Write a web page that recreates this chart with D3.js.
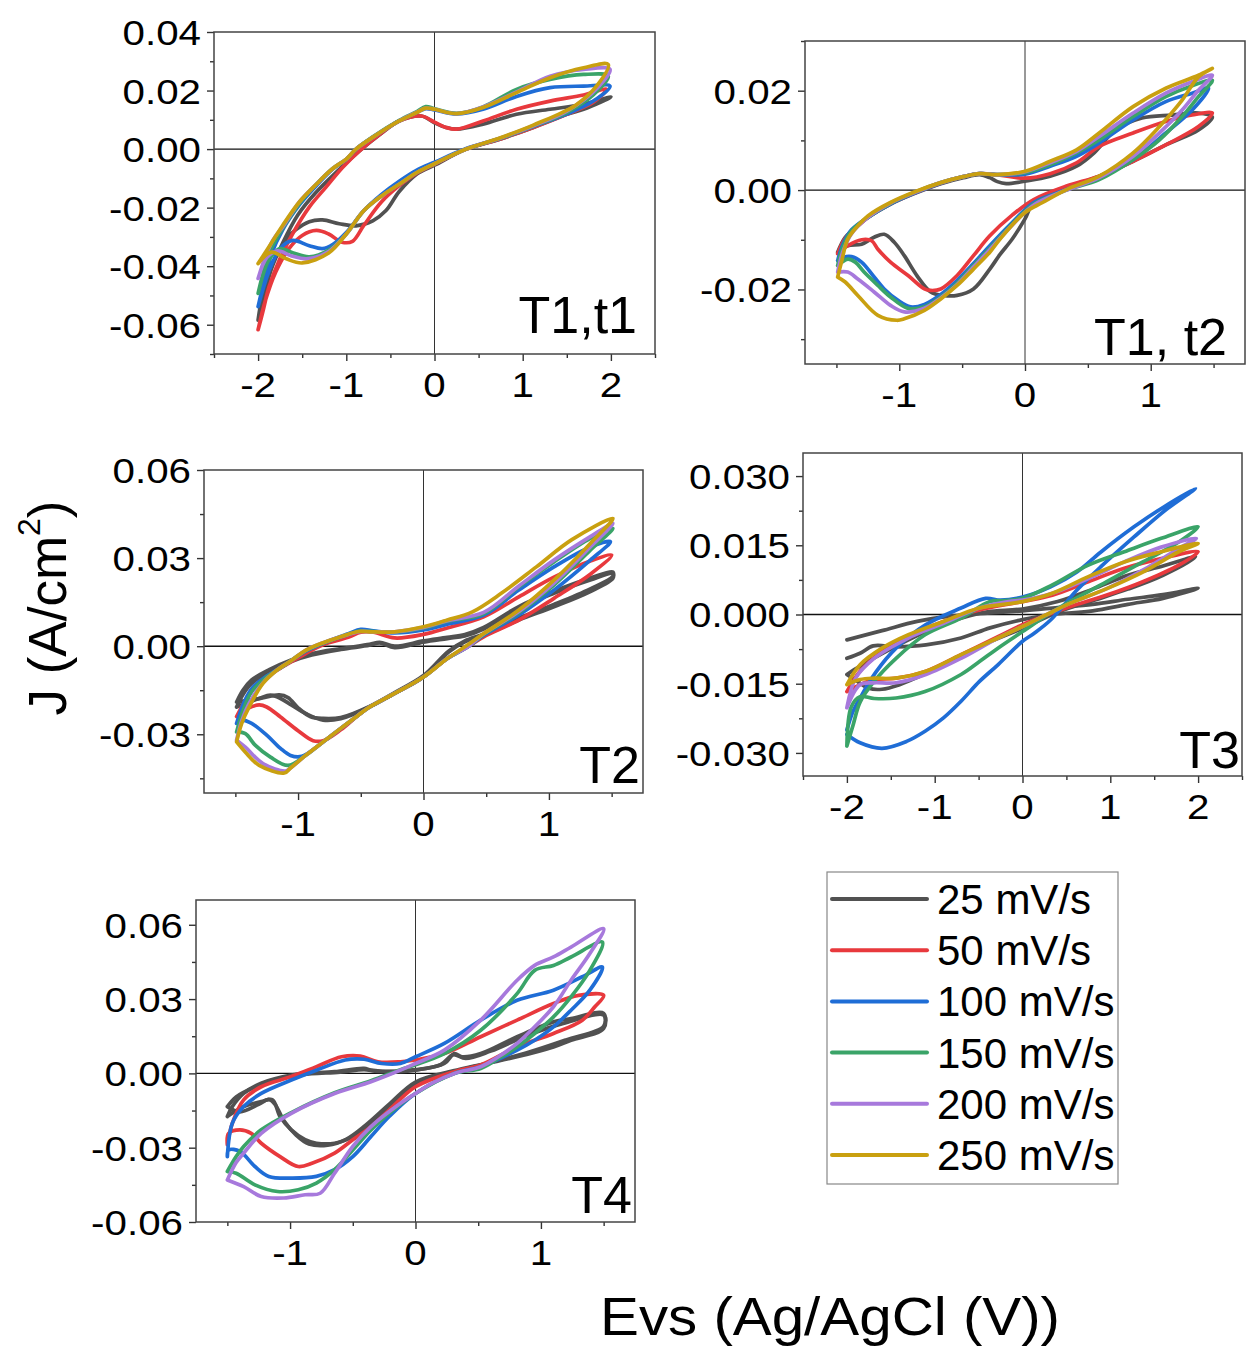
<!DOCTYPE html>
<html>
<head>
<meta charset="utf-8">
<script src="https://cdn.jsdelivr.net/npm/d3@7"></script>
<style>
  body { margin: 0; background: #fff; }
  text { font-family: "Liberation Sans", Arial, sans-serif; fill: #000; }
</style>
</head>
<body>
<div id="chart"></div>
<script>
// scan rates and their colours
const scanRates = ["25 mV/s", "50 mV/s", "100 mV/s", "150 mV/s", "200 mV/s", "250 mV/s"];
const seriesColors = ["#515151", "#e8393d", "#1f6dd6", "#3aa468", "#a779dc", "#c9a010"];

// each entry: loops for one scan rate, points [E (V), J (A/cm2)], anodic sweep then back
const t1t1 = [
  [[[-2.0,-0.0584],[-1.93,-0.050],[-1.85,-0.041],[-1.72,-0.032],[-1.55,-0.0225],[-1.35,-0.015],[-1.1,-0.0075],[-0.85,-0.0006],[-0.62,0.005],[-0.4,0.0096],[-0.15,0.0113],[0.0,0.009],[0.13,0.0074],[0.25,0.0068],[0.55,0.0085],[0.93,0.0119],[1.31,0.0136],[1.69,0.0153],[2.0,0.0178],
    [1.69,0.0136],[1.5,0.0119],[1.12,0.0074],[0.74,0.0034],[0.36,0.0],[0.0,-0.0055],[-0.2,-0.0085],[-0.4,-0.0145],[-0.55,-0.021],[-0.7,-0.0245],[-0.89,-0.0262],[-1.08,-0.0255],[-1.27,-0.0242],[-1.42,-0.0248],[-1.57,-0.0275],[-1.69,-0.031],[-1.84,-0.040],[-1.95,-0.050],[-2.0,-0.0584]]],
  [[[-2.0,-0.0617],[-1.95,-0.056],[-1.875,-0.047],[-1.76,-0.038],[-1.61,-0.029],[-1.42,-0.0198],[-1.23,-0.013],[-1.04,-0.0062],[-0.85,-0.0006],[-0.62,0.0051],[-0.4,0.0096],[-0.15,0.0113],[0.0,0.0092],[0.13,0.0074],[0.25,0.0068],[0.55,0.0096],[0.93,0.0136],[1.31,0.0164],[1.69,0.0185],[1.95,0.0204],
    [1.8,0.016],[1.5,0.0119],[1.12,0.0074],[0.74,0.0034],[0.36,0.0],[0.0,-0.0052],[-0.2,-0.0082],[-0.4,-0.0125],[-0.6,-0.018],[-0.8,-0.026],[-0.93,-0.0315],[-1.05,-0.0318],[-1.2,-0.029],[-1.34,-0.0278],[-1.5,-0.0295],[-1.65,-0.034],[-1.8,-0.042],[-1.92,-0.052],[-2.0,-0.0617]]],
  [[[-2.0,-0.0538],[-1.93,-0.045],[-1.85,-0.036],[-1.72,-0.0275],[-1.53,-0.019],[-1.34,-0.0125],[-1.16,-0.007],[-1.0,-0.0035],[-0.89,0.0],[-0.7,0.004],[-0.4,0.0096],[-0.2,0.0125],[-0.1,0.0138],[0.0,0.0134],[0.25,0.012],[0.55,0.0136],[0.93,0.018],[1.31,0.021],[1.69,0.0215],[1.99,0.0215],
    [1.8,0.0164],[1.5,0.012],[1.12,0.0077],[0.74,0.0036],[0.36,0.0002],[0.0,-0.0045],[-0.2,-0.0072],[-0.4,-0.011],[-0.6,-0.0155],[-0.8,-0.021],[-1.0,-0.0285],[-1.15,-0.0325],[-1.27,-0.034],[-1.42,-0.033],[-1.61,-0.0312],[-1.75,-0.034],[-1.88,-0.042],[-2.0,-0.0538]]],
  [[[-2.0,-0.0493],[-1.93,-0.041],[-1.85,-0.034],[-1.72,-0.027],[-1.53,-0.0185],[-1.34,-0.012],[-1.16,-0.0068],[-1.0,-0.0034],[-0.89,0.0],[-0.7,0.0042],[-0.4,0.0098],[-0.2,0.0128],[-0.1,0.0145],[0.0,0.0138],[0.25,0.0122],[0.55,0.0144],[0.93,0.0204],[1.31,0.0238],[1.69,0.0255],[1.97,0.0249],
    [1.8,0.0185],[1.5,0.0125],[1.12,0.0078],[0.74,0.0036],[0.36,0.0],[0.0,-0.005],[-0.2,-0.008],[-0.4,-0.012],[-0.6,-0.016],[-0.8,-0.021],[-1.0,-0.029],[-1.2,-0.0345],[-1.42,-0.0368],[-1.6,-0.0355],[-1.75,-0.034],[-1.88,-0.038],[-2.0,-0.0493]]],
  [[[-2.0,-0.0442],[-1.92,-0.037],[-1.83,-0.031],[-1.72,-0.0265],[-1.53,-0.018],[-1.34,-0.012],[-1.16,-0.0068],[-1.0,-0.0034],[-0.89,0.0],[-0.7,0.004],[-0.4,0.0096],[-0.2,0.0126],[-0.1,0.014],[0.0,0.0136],[0.25,0.0121],[0.55,0.0144],[0.93,0.0195],[1.31,0.0249],[1.69,0.0272],[1.99,0.0272],
    [1.85,0.021],[1.5,0.013],[1.12,0.008],[0.74,0.0037],[0.36,0.0],[0.0,-0.005],[-0.2,-0.008],[-0.4,-0.012],[-0.6,-0.016],[-0.8,-0.021],[-1.0,-0.029],[-1.2,-0.035],[-1.45,-0.0375],[-1.62,-0.0365],[-1.78,-0.0348],[-1.9,-0.037],[-2.0,-0.0442]]],
  [[[-2.0,-0.0391],[-1.9,-0.0345],[-1.72,-0.026],[-1.53,-0.018],[-1.34,-0.012],[-1.16,-0.0068],[-1.0,-0.0034],[-0.89,0.0],[-0.7,0.004],[-0.4,0.0096],[-0.2,0.0125],[-0.1,0.014],[0.0,0.0136],[0.25,0.0121],[0.55,0.0142],[0.93,0.0193],[1.31,0.0244],[1.69,0.0278],[1.97,0.0289],
    [1.85,0.022],[1.6,0.015],[1.12,0.0082],[0.74,0.0038],[0.36,0.0],[0.0,-0.005],[-0.2,-0.008],[-0.4,-0.012],[-0.6,-0.016],[-0.8,-0.021],[-1.0,-0.029],[-1.2,-0.0355],[-1.5,-0.0389],[-1.68,-0.0375],[-1.85,-0.0352],[-2.0,-0.0391]]]
];

const t1t2 = [
  [[[-1.49,-0.0125],[-1.43,-0.0095],[-1.33,-0.0072],[-1.25,-0.0055],[-1.07,-0.0028],[-0.86,-0.0005],[-0.67,0.0013],[-0.49,0.0025],[-0.36,0.0031],[-0.28,0.0025],[-0.22,0.0017],[-0.15,0.0013],[0.0,0.0018],[0.2,0.0028],[0.41,0.0048],[0.55,0.0075],[0.72,0.0121],[0.93,0.0145],[1.17,0.0151],[1.38,0.0155],[1.49,0.0147],
    [1.38,0.0121],[1.12,0.0091],[0.86,0.0058],[0.59,0.0028],[0.33,0.0005],[0.07,-0.0025],[0.0,-0.0058],[-0.1,-0.0098],[-0.2,-0.013],[-0.28,-0.0159],[-0.41,-0.0199],[-0.54,-0.0212],[-0.65,-0.0212],[-0.75,-0.0205],[-0.86,-0.0172],[-0.96,-0.0132],[-1.04,-0.0105],[-1.12,-0.0089],[-1.2,-0.0095],[-1.3,-0.0109],[-1.41,-0.0112],[-1.49,-0.0125]]],
  [[[-1.49,-0.0128],[-1.43,-0.0097],[-1.33,-0.0072],[-1.25,-0.0055],[-1.07,-0.0028],[-0.86,-0.0004],[-0.67,0.0014],[-0.49,0.0027],[-0.36,0.0033],[-0.2,0.003],[0.0,0.0024],[0.2,0.0033],[0.41,0.0055],[0.59,0.0088],[0.86,0.0115],[1.12,0.0138],[1.33,0.0151],[1.49,0.0155],
    [1.38,0.0128],[1.12,0.0091],[0.86,0.0058],[0.59,0.0028],[0.33,0.0008],[0.07,-0.0019],[-0.1,-0.005],[-0.28,-0.0092],[-0.41,-0.0132],[-0.54,-0.0172],[-0.67,-0.0199],[-0.75,-0.0202],[-0.8,-0.0199],[-0.93,-0.0172],[-1.07,-0.0145],[-1.17,-0.0119],[-1.22,-0.0102],[-1.3,-0.01],[-1.41,-0.0112],[-1.49,-0.0128]]],
  [[[-1.49,-0.0142],[-1.45,-0.011],[-1.38,-0.008],[-1.25,-0.0055],[-1.07,-0.0028],[-0.86,-0.0004],[-0.67,0.0014],[-0.49,0.0027],[-0.36,0.0033],[-0.2,0.0031],[0.0,0.0032],[0.2,0.0048],[0.41,0.0068],[0.59,0.0095],[0.86,0.0141],[1.12,0.0178],[1.33,0.0195],[1.46,0.0205],
    [1.33,0.0161],[1.12,0.0115],[0.86,0.0061],[0.59,0.0025],[0.33,0.0001],[0.07,-0.0025],[-0.1,-0.0065],[-0.28,-0.0112],[-0.41,-0.0148],[-0.54,-0.0182],[-0.67,-0.021],[-0.8,-0.023],[-0.91,-0.0235],[-1.01,-0.0222],[-1.12,-0.0199],[-1.2,-0.0175],[-1.3,-0.0145],[-1.38,-0.0134],[-1.44,-0.0135],[-1.49,-0.0142]]],
  [[[-1.49,-0.0152],[-1.45,-0.0115],[-1.38,-0.0082],[-1.25,-0.0055],[-1.07,-0.0027],[-0.86,-0.0003],[-0.67,0.0015],[-0.49,0.0027],[-0.36,0.0033],[-0.2,0.0031],[0.0,0.0035],[0.2,0.0051],[0.41,0.0075],[0.59,0.0101],[0.86,0.0148],[1.12,0.0188],[1.33,0.021],[1.49,0.0221],
    [1.38,0.0188],[1.25,0.0148],[1.07,0.0101],[0.86,0.0061],[0.59,0.0021],[0.33,0.0],[0.07,-0.0028],[-0.1,-0.0068],[-0.28,-0.0117],[-0.41,-0.0152],[-0.54,-0.0187],[-0.67,-0.0215],[-0.8,-0.0235],[-0.93,-0.0238],[-1.07,-0.0215],[-1.17,-0.0192],[-1.28,-0.0165],[-1.35,-0.0145],[-1.41,-0.0139],[-1.49,-0.0152]]],
  [[[-1.49,-0.0165],[-1.45,-0.0125],[-1.38,-0.0088],[-1.25,-0.0055],[-1.07,-0.0026],[-0.86,-0.0003],[-0.67,0.0015],[-0.49,0.0027],[-0.36,0.0033],[-0.2,0.0031],[0.0,0.0037],[0.2,0.0055],[0.41,0.0078],[0.59,0.0108],[0.86,0.0155],[1.12,0.0195],[1.33,0.0218],[1.49,0.0231],
    [1.38,0.0201],[1.25,0.0161],[1.07,0.0115],[0.86,0.0068],[0.59,0.0025],[0.33,0.0],[0.07,-0.003],[-0.1,-0.007],[-0.28,-0.012],[-0.41,-0.0155],[-0.54,-0.019],[-0.67,-0.0217],[-0.8,-0.0238],[-0.96,-0.0245],[-1.07,-0.0232],[-1.2,-0.0205],[-1.33,-0.0179],[-1.41,-0.0165],[-1.49,-0.0165]]],
  [[[-1.49,-0.0175],[-1.46,-0.0145],[-1.41,-0.0099],[-1.33,-0.0072],[-1.25,-0.0052],[-1.07,-0.0025],[-0.86,-0.0002],[-0.67,0.0015],[-0.49,0.0027],[-0.36,0.0033],[-0.22,0.0031],[0.0,0.0038],[0.2,0.0058],[0.41,0.0081],[0.59,0.0115],[0.86,0.0168],[1.12,0.0205],[1.38,0.0231],[1.49,0.0245],
    [1.38,0.0228],[1.25,0.0181],[1.07,0.0128],[0.86,0.0075],[0.59,0.0028],[0.33,0.0001],[0.14,-0.0025],[0.0,-0.0045],[-0.2,-0.0099],[-0.28,-0.0125],[-0.41,-0.0159],[-0.54,-0.0192],[-0.67,-0.0219],[-0.8,-0.0242],[-0.96,-0.0259],[-1.02,-0.0262],[-1.17,-0.0252],[-1.33,-0.0212],[-1.43,-0.0185],[-1.49,-0.0175]]]
];

const t2 = [
  [[[-1.49,-0.0207],[-1.44,-0.0165],[-1.37,-0.0127],[-1.23,-0.0087],[-1.06,-0.0053],[-0.89,-0.003],[-0.66,-0.0011],[-0.43,0.0003],[-0.35,0.0011],[-0.23,-0.0005],[0.0,0.0014],[0.19,0.0026],[0.33,0.0035],[0.48,0.0058],[0.76,0.0129],[1.04,0.018],[1.33,0.0225],[1.51,0.0247],
    [1.51,0.0231],[1.33,0.0186],[1.04,0.0134],[0.76,0.0089],[0.48,0.0037],[0.33,0.0015],[0.2,-0.002],[0.0,-0.0105],[-0.23,-0.0161],[-0.43,-0.0207],[-0.66,-0.0247],[-0.8,-0.0252],[-0.94,-0.0229],[-1.055,-0.02],[-1.14,-0.0178],[-1.22,-0.0167],[-1.31,-0.0178],[-1.42,-0.0195],[-1.49,-0.0207]],
   [[-1.49,-0.019],[-1.44,-0.015],[-1.37,-0.0115],[-1.23,-0.008],[-1.06,-0.0048],[-0.89,-0.0025],[-0.66,-0.0008],[-0.43,0.0006],[-0.35,0.0013],[-0.23,0.0],[0.0,0.0018],[0.19,0.003],[0.33,0.004],[0.48,0.0064],[0.76,0.0135],[1.04,0.0187],[1.33,0.0232],[1.51,0.0253],
    [1.51,0.0238],[1.33,0.0195],[1.04,0.0142],[0.76,0.0096],[0.48,0.0042],[0.33,0.0018],[0.2,-0.0017],[0.0,-0.01],[-0.23,-0.0158],[-0.43,-0.0205],[-0.66,-0.0243],[-0.8,-0.0246],[-0.9,-0.024],[-1.0,-0.021],[-1.08,-0.0175],[-1.15,-0.0166],[-1.3,-0.0178],[-1.49,-0.019]]],
  [[[-1.49,-0.024],[-1.42,-0.0185],[-1.34,-0.0135],[-1.22,-0.0095],[-1.1,-0.0065],[-0.94,-0.0025],[-0.8,0.0005],[-0.6,0.003],[-0.5,0.0048],[-0.4,0.0048],[-0.23,0.0028],[0.0,0.004],[0.19,0.0062],[0.48,0.0100],[0.76,0.0168],[1.04,0.0235],[1.33,0.029],[1.5,0.031],
    [1.33,0.0245],[1.04,0.0163],[0.76,0.0089],[0.48,0.0032],[0.36,0.0],[0.19,-0.0042],[0.0,-0.0105],[-0.23,-0.0161],[-0.43,-0.0207],[-0.52,-0.0235],[-0.66,-0.0285],[-0.8,-0.0322],[-0.88,-0.0322],[-1.0,-0.0288],[-1.14,-0.0241],[-1.25,-0.0207],[-1.31,-0.0200],[-1.4,-0.0212],[-1.49,-0.024]]],
  [[[-1.49,-0.0263],[-1.43,-0.019],[-1.36,-0.014],[-1.25,-0.0102],[-1.12,-0.0068],[-0.94,-0.0018],[-0.8,0.001],[-0.6,0.0042],[-0.5,0.0057],[-0.4,0.0052],[-0.23,0.0045],[0.0,0.0055],[0.19,0.0075],[0.48,0.0106],[0.76,0.0191],[1.04,0.027],[1.33,0.0338],[1.49,0.0356],
    [1.33,0.0293],[1.04,0.0191],[0.76,0.0106],[0.48,0.0037],[0.36,0.0],[0.19,-0.0042],[0.0,-0.0105],[-0.23,-0.0161],[-0.43,-0.0207],[-0.52,-0.0235],[-0.66,-0.028],[-0.8,-0.0326],[-0.97,-0.0375],[-1.06,-0.0372],[-1.14,-0.0348],[-1.25,-0.0303],[-1.37,-0.0263],[-1.45,-0.0252],[-1.49,-0.0263]]],
  [[[-1.49,-0.0292],[-1.44,-0.022],[-1.37,-0.0155],[-1.25,-0.0105],[-1.12,-0.0068],[-0.94,-0.0016],[-0.8,0.001],[-0.6,0.004],[-0.5,0.0052],[-0.4,0.005],[-0.23,0.0048],[0.0,0.0062],[0.19,0.0085],[0.48,0.0111],[0.76,0.0202],[1.04,0.0287],[1.33,0.0367],[1.51,0.0401],
    [1.33,0.0327],[1.04,0.0208],[0.76,0.0114],[0.48,0.004],[0.36,0.0],[0.19,-0.0042],[0.0,-0.0105],[-0.23,-0.0161],[-0.43,-0.0207],[-0.52,-0.0235],[-0.66,-0.028],[-0.8,-0.0326],[-0.94,-0.0372],[-1.08,-0.0406],[-1.22,-0.0378],[-1.34,-0.0338],[-1.42,-0.0298],[-1.49,-0.0292]]],
  [[[-1.49,-0.032],[-1.45,-0.0255],[-1.39,-0.0195],[-1.28,-0.0125],[-1.17,-0.0082],[-1.05,-0.0048],[-0.94,-0.0014],[-0.8,0.0012],[-0.6,0.004],[-0.5,0.005],[-0.4,0.0049],[-0.23,0.0049],[0.0,0.0064],[0.19,0.0087],[0.48,0.0115],[0.76,0.0205],[1.04,0.0293],[1.33,0.0373],[1.51,0.0418],
    [1.33,0.0338],[1.04,0.0215],[0.76,0.0118],[0.48,0.0042],[0.36,0.0],[0.19,-0.0042],[0.0,-0.0105],[-0.23,-0.0161],[-0.43,-0.0207],[-0.52,-0.0235],[-0.66,-0.028],[-0.8,-0.0326],[-0.94,-0.0372],[-1.06,-0.0415],[-1.1,-0.0425],[-1.28,-0.040],[-1.42,-0.0344],[-1.49,-0.032]]],
  [[[-1.49,-0.0326],[-1.45,-0.0264],[-1.39,-0.0207],[-1.28,-0.0127],[-1.17,-0.0082],[-1.05,-0.0048],[-0.94,-0.0014],[-0.8,0.0012],[-0.66,0.0032],[-0.52,0.005],[-0.43,0.0049],[-0.23,0.0049],[0.0,0.0066],[0.19,0.0089],[0.39,0.0117],[0.62,0.018],[0.9,0.027],[1.18,0.0362],[1.51,0.0435],
    [1.33,0.035],[1.04,0.0225],[0.76,0.0123],[0.48,0.0043],[0.33,-0.0002],[0.19,-0.0042],[0.0,-0.0105],[-0.23,-0.0161],[-0.43,-0.0207],[-0.52,-0.0235],[-0.66,-0.028],[-0.8,-0.0326],[-0.94,-0.0372],[-1.06,-0.0415],[-1.11,-0.0432],[-1.31,-0.0406],[-1.42,-0.0361],[-1.49,-0.0326]]]
];

const t3 = [
  [[[-2.0,-0.0055],[-1.6,-0.0035],[-1.2,-0.0015],[-0.8,-0.0003],[-0.4,0.0003],[0.0,0.0008],[0.4,0.0015],[0.8,0.0022],[1.2,0.0033],[1.6,0.0043],[2.0,0.0057],
    [1.6,0.0035],[1.2,0.0022],[0.8,0.0008],[0.34,0.0],[0.0,-0.0011],[-0.37,-0.0029],[-0.7,-0.0051],[-1.1,-0.0066],[-1.44,-0.007],[-1.7,-0.0068],[-1.85,-0.0084],[-2.0,-0.0095]],
   [[-2.0,-0.013],[-1.85,-0.0112],[-1.6,-0.0085],[-1.3,-0.0055],[-1.0,-0.0028],[-0.7,-0.0008],[-0.4,0.0006],[0.0,0.0012],[0.4,0.0028],[0.8,0.0055],[1.2,0.0085],[1.6,0.0105],[1.97,0.0125],
    [1.6,0.0085],[1.2,0.0055],[0.8,0.003],[0.4,0.0005],[0.0,-0.003],[-0.4,-0.0062],[-0.8,-0.01],[-1.1,-0.0128],[-1.4,-0.0152],[-1.6,-0.0162],[-1.75,-0.016],[-1.88,-0.0145],[-2.0,-0.013]]],
  [[[-2.0,-0.0167],[-1.85,-0.0123],[-1.6,-0.008],[-1.3,-0.0047],[-0.9,-0.0015],[-0.49,0.001],[0.0,0.0028],[0.34,0.0042],[0.75,0.0071],[1.16,0.01],[1.58,0.0121],[2.0,0.0136],
    [1.78,0.0107],[1.37,0.0071],[0.96,0.0042],[0.54,0.0017],[0.34,0.0003],[0.0,-0.0022],[-0.28,-0.0048],[-0.7,-0.0087],[-1.1,-0.0123],[-1.44,-0.0138],[-1.69,-0.0141],[-1.85,-0.0152],[-2.0,-0.0167]]],
  [[[-2.0,-0.025],[-1.93,-0.021],[-1.85,-0.0181],[-1.67,-0.0125],[-1.44,-0.0073],[-1.1,-0.0022],[-0.7,0.0014],[-0.42,0.0035],[-0.25,0.0031],[0.0,0.0038],[0.32,0.006],[0.62,0.0092],[0.89,0.0135],[1.27,0.019],[1.6,0.0232],[1.97,0.0273],
    [1.64,0.0228],[1.27,0.0168],[0.89,0.0103],[0.62,0.0053],[0.32,-0.0012],[0.13,-0.0041],[0.0,-0.0058],[-0.28,-0.0109],[-0.49,-0.0145],[-0.7,-0.0188],[-0.9,-0.0224],[-1.11,-0.0253],[-1.32,-0.0275],[-1.6,-0.029],[-1.85,-0.0278],[-2.0,-0.026]]],
  [[[-2.0,-0.0285],[-1.93,-0.024],[-1.85,-0.019],[-1.69,-0.0145],[-1.44,-0.0095],[-1.11,-0.0044],[-0.7,-0.0008],[-0.37,0.0028],[-0.2,0.003],[0.0,0.0035],[0.34,0.0064],[0.75,0.0107],[1.16,0.0136],[1.58,0.0165],[2.0,0.019],
    [1.78,0.0157],[1.37,0.0114],[0.96,0.0071],[0.54,0.0028],[0.34,0.0006],[0.0,-0.0037],[-0.28,-0.0073],[-0.49,-0.0102],[-0.7,-0.013],[-1.11,-0.0167],[-1.44,-0.0181],[-1.69,-0.0182],[-1.85,-0.0178],[-1.95,-0.02],[-2.0,-0.0285]]],
  [[[-2.0,-0.0202],[-1.9,-0.0138],[-1.69,-0.0095],[-1.3,-0.0051],[-0.9,-0.0019],[-0.49,0.0014],[-0.16,0.0028],[0.0,0.0031],[0.34,0.0046],[0.75,0.0078],[1.16,0.0114],[1.58,0.0146],[1.98,0.0165],
    [1.78,0.0143],[1.37,0.0096],[0.96,0.0056],[0.54,0.0024],[0.34,0.0006],[0.0,-0.0026],[-0.28,-0.0051],[-0.7,-0.0095],[-1.1,-0.013],[-1.44,-0.0148],[-1.69,-0.0148],[-1.85,-0.0152],[-2.0,-0.0202]]],
  [[[-2.0,-0.0152],[-1.85,-0.0109],[-1.6,-0.0073],[-1.3,-0.0044],[-0.9,-0.0015],[-0.49,0.0014],[0.0,0.0028],[0.34,0.0046],[0.75,0.0082],[1.16,0.0114],[1.58,0.0136],[2.0,0.0154],
    [1.78,0.0136],[1.37,0.0092],[0.96,0.0056],[0.54,0.0024],[0.34,0.0006],[0.0,-0.0026],[-0.28,-0.0051],[-0.7,-0.0087],[-1.1,-0.0123],[-1.44,-0.0138],[-1.69,-0.0138],[-1.85,-0.0141],[-2.0,-0.0152]]]
];

const t4 = [
  [[[-1.5,-0.0174],[-1.46,-0.0134],[-1.37,-0.0081],[-1.23,-0.004],[-0.99,-0.0007],[-0.645,0.0007],[-0.41,0.002],[-0.355,0.0013],[-0.12,0.0007],[0.0,0.0013],[0.23,0.004],[0.31,0.008],[0.37,0.0067],[0.52,0.008],[0.81,0.0148],[1.1,0.0208],[1.24,0.0221],[1.5,0.0242],
    [1.5,0.0181],[1.24,0.0134],[1.1,0.0107],[0.81,0.0067],[0.52,0.0034],[0.31,0.0007],[0.0,-0.004],[-0.21,-0.0134],[-0.355,-0.0201],[-0.5,-0.0255],[-0.645,-0.0282],[-0.79,-0.0282],[-0.88,-0.0268],[-0.99,-0.0228],[-1.08,-0.0174],[-1.14,-0.0107],[-1.23,-0.0114],[-1.37,-0.0134],[-1.5,-0.0174]],
   [[-1.5,-0.0134],[-1.43,-0.0095],[-1.3,-0.006],[-1.1,-0.0025],[-0.9,-0.0005],[-0.6,0.0005],[-0.41,0.0015],[-0.3,0.0008],[0.0,0.0015],[0.2,0.0035],[0.3,0.0075],[0.4,0.006],[0.6,0.009],[0.9,0.0155],[1.2,0.0205],[1.5,0.0235],
    [1.5,0.019],[1.2,0.0135],[0.9,0.0085],[0.6,0.0045],[0.3,0.001],[0.0,-0.0035],[-0.2,-0.012],[-0.4,-0.021],[-0.55,-0.0265],[-0.7,-0.029],[-0.85,-0.0285],[-0.95,-0.025],[-1.05,-0.019],[-1.12,-0.0125],[-1.17,-0.0105],[-1.25,-0.0125],[-1.4,-0.0155],[-1.5,-0.0134]]],
  [[[-1.5,-0.0288],[-1.46,-0.0201],[-1.37,-0.0107],[-1.23,-0.0054],[-0.99,-0.0013],[-0.79,0.0027],[-0.59,0.0067],[-0.44,0.007],[-0.3,0.0047],[-0.12,0.0047],[0.0,0.0054],[0.23,0.008],[0.52,0.0148],[0.81,0.0215],[1.1,0.0282],[1.3,0.0315],[1.5,0.0315],
    [1.43,0.0269],[1.33,0.0215],[1.1,0.0161],[0.81,0.0107],[0.52,0.0034],[0.31,0.0007],[0.0,-0.0054],[-0.21,-0.0148],[-0.355,-0.0215],[-0.5,-0.0268],[-0.645,-0.0322],[-0.82,-0.0362],[-0.935,-0.0376],[-1.08,-0.0336],[-1.23,-0.0282],[-1.31,-0.0242],[-1.4,-0.0228],[-1.49,-0.0242],[-1.5,-0.0288]]],
  [[[-1.5,-0.0336],[-1.46,-0.0201],[-1.37,-0.0134],[-1.23,-0.0081],[-0.99,-0.0027],[-0.79,0.0013],[-0.56,0.0054],[-0.41,0.0057],[-0.27,0.004],[-0.12,0.004],[0.0,0.0067],[0.23,0.0121],[0.52,0.0215],[0.81,0.0295],[1.1,0.0336],[1.33,0.039],[1.49,0.0429],
    [1.39,0.0336],[1.24,0.0255],[1.1,0.0188],[0.95,0.0134],[0.81,0.0094],[0.52,0.0027],[0.31,0.0],[0.0,-0.0081],[-0.21,-0.0174],[-0.355,-0.0255],[-0.5,-0.0336],[-0.645,-0.0389],[-0.79,-0.0416],[-0.99,-0.0423],[-1.17,-0.0416],[-1.28,-0.0376],[-1.4,-0.0315],[-1.49,-0.0309],[-1.5,-0.0336]]],
  [[[-1.5,-0.0396],[-1.43,-0.0336],[-1.37,-0.0295],[-1.23,-0.0228],[-0.99,-0.0158],[-0.645,-0.0078],[-0.355,-0.003],[-0.12,0.0015],[0.0,0.0035],[0.23,0.008],[0.52,0.0174],[0.81,0.0322],[0.95,0.0416],[1.1,0.0436],[1.24,0.047],[1.49,0.053],
    [1.39,0.0416],[1.24,0.0309],[1.1,0.0228],[0.95,0.0161],[0.81,0.0107],[0.66,0.006],[0.52,0.002],[0.31,0.0],[0.0,-0.0081],[-0.21,-0.0161],[-0.355,-0.0228],[-0.5,-0.0309],[-0.645,-0.0389],[-0.79,-0.0443],[-0.935,-0.047],[-1.1,-0.0477],[-1.28,-0.045],[-1.43,-0.0403],[-1.5,-0.0396]]],
  [[[-1.5,-0.043],[-1.43,-0.036],[-1.37,-0.0322],[-1.23,-0.0242],[-0.99,-0.0161],[-0.645,-0.0081],[-0.355,-0.0034],[-0.12,0.0013],[0.0,0.004],[0.23,0.0094],[0.52,0.0215],[0.81,0.0376],[0.95,0.0436],[1.1,0.047],[1.24,0.051],[1.5,0.0584],
    [1.39,0.0484],[1.24,0.0376],[1.1,0.0269],[0.95,0.0188],[0.81,0.0121],[0.66,0.0067],[0.52,0.0027],[0.31,0.0],[0.13,-0.004],[0.0,-0.0081],[-0.12,-0.0121],[-0.355,-0.0215],[-0.5,-0.0295],[-0.645,-0.0403],[-0.76,-0.0484],[-0.88,-0.049],[-1.05,-0.0503],[-1.23,-0.0497],[-1.37,-0.0457],[-1.5,-0.043]]],
  []
];

// tick values
const t1t1XTicks = [-2, -1, 0, 1, 2];
const t1t1YTicks = [-0.06, -0.04, -0.02, 0, 0.02, 0.04];
const t1t2XTicks = [-1, 0, 1];
const t1t2YTicks = [-0.02, 0, 0.02];
const t2XTicks = [-1, 0, 1];
const t2YTicks = [-0.03, 0, 0.03, 0.06];
const t3XTicks = [-2, -1, 0, 1, 2];
const t3YTicks = [-0.03, -0.015, 0, 0.015, 0.03];
const t4XTicks = [-1, 0, 1];
const t4YTicks = [-0.06, -0.03, 0, 0.03, 0.06];

let width = 1246;
let height = 1354;

let svg = d3.select("#chart")
    .append("svg")
    .attr("width", width)
    .attr("height", height);

// hyphen minus like the original
let locale = d3.formatLocale({decimal: ".", thousands: ",", grouping: [3], currency: ["", ""], minus: "-"});

let panels = [
    {label: "T1,t1", curves: t1t1, xTicks: t1t1XTicks, yTicks: t1t1YTicks, xDomain: [-2.5, 2.5], yDomain: [-0.07, 0.04],
     digits: 2, box: [214, 32, 655, 354], labelPos: [637, 333]},
    {label: "T1, t2", curves: t1t2, xTicks: t1t2XTicks, yTicks: t1t2YTicks, xDomain: [-1.75, 1.75], yDomain: [-0.035, 0.03],
     digits: 2, box: [805, 41, 1245, 364], labelPos: [1227, 355]},
    {label: "T2", curves: t2, xTicks: t2XTicks, yTicks: t2YTicks, xDomain: [-1.75, 1.75], yDomain: [-0.05, 0.06],
     digits: 2, box: [204, 470, 643, 793], labelPos: [640, 783]},
    {label: "T3", curves: t3, xTicks: t3XTicks, yTicks: t3YTicks, xDomain: [-2.5, 2.5], yDomain: [-0.035, 0.035],
     digits: 3, box: [803, 453, 1242, 776], labelPos: [1240, 768]},
    {label: "T4", curves: t4, xTicks: t4XTicks, yTicks: t4YTicks, xDomain: [-1.75, 1.75], yDomain: [-0.06, 0.07],
     digits: 2, box: [196, 900, 635, 1222], labelPos: [632, 1213]}
];

let tickFont = 36;
let stretch = 1.12;

function minorValues(ticks, domain) {
    let step = ticks[1] - ticks[0];
    return d3.range(ticks[0] - step / 2 - step * 3, domain[1] + 1e-9, step)
        .filter(v => v >= domain[0] - 1e-9 && v <= domain[1] + 1e-9);
}

panels.forEach(function(p) {
    let [x0, y0, x1, y1] = p.box;
    let x = d3.scaleLinear().domain(p.xDomain).range([x0, x1]);
    let y = d3.scaleLinear().domain(p.yDomain).range([y1, y0]);
    let g = svg.append("g").attr("class", "panel");

    // ticks (outward), minor then major
    g.append("g").attr("transform", "translate(0," + y1 + ")")
        .call(d3.axisBottom(x).tickValues(minorValues(p.xTicks, p.xDomain)).tickSize(4).tickSizeOuter(0).tickFormat(""));
    g.append("g").attr("transform", "translate(0," + y1 + ")")
        .call(d3.axisBottom(x).tickValues(p.xTicks).tickSize(7).tickSizeOuter(0).tickFormat(""));
    g.append("g").attr("transform", "translate(" + x0 + ",0)")
        .call(d3.axisLeft(y).tickValues(minorValues(p.yTicks, p.yDomain)).tickSize(4).tickSizeOuter(0).tickFormat(""));
    g.append("g").attr("transform", "translate(" + x0 + ",0)")
        .call(d3.axisLeft(y).tickValues(p.yTicks).tickSize(7).tickSizeOuter(0).tickFormat(""));
    g.selectAll(".domain").remove();
    g.selectAll(".tick line").attr("stroke", "#333").attr("stroke-width", 1.4);
    g.selectAll(".tick text").remove();

    // zero lines
    g.append("line")
        .attr("x1", x0).attr("x2", x1)
        .attr("y1", y(0)).attr("y2", y(0))
        .attr("stroke", "#111").attr("stroke-width", 1.4);
    g.append("line")
        .attr("x1", x(0)).attr("x2", x(0))
        .attr("y1", y0).attr("y2", y1)
        .attr("stroke", "#333").attr("stroke-width", 1);

    // CV loops
    let line = d3.line()
        .x(d => x(d[0]))
        .y(d => y(d[1]))
        .curve(d3.curveCatmullRom.alpha(0.5));

    p.curves.forEach(function(loops, i) {
        loops.forEach(function(pts) {
            g.append("path")
                .attr("d", line(pts))
                .attr("fill", "none")
                .attr("stroke", seriesColors[i])
                .attr("stroke-width", 3.7)
                .attr("stroke-linejoin", "round")
                .attr("stroke-linecap", "round");
        });
    });

    // frame
    g.append("rect")
        .attr("x", x0).attr("y", y0)
        .attr("width", x1 - x0).attr("height", y1 - y0)
        .attr("fill", "none")
        .attr("stroke", "#444")
        .attr("stroke-width", 1.5);

    // tick labels
    let yFmt = locale.format("." + p.digits + "f");
    let xFmt = locale.format("d");
    p.yTicks.forEach(function(v) {
        g.append("text")
            .attr("transform", "translate(" + (x0 - 13) + "," + y(v) + ") scale(" + stretch + ",1)")
            .attr("text-anchor", "end")
            .attr("dy", "0.36em")
            .style("font-size", tickFont + "px")
            .text(yFmt(v));
    });
    p.xTicks.forEach(function(v) {
        g.append("text")
            .attr("transform", "translate(" + x(v) + "," + (y1 + 43) + ") scale(" + stretch + ",1)")
            .attr("text-anchor", "middle")
            .style("font-size", tickFont + "px")
            .text(xFmt(v));
    });

    // panel label
    g.append("text")
        .attr("x", p.labelPos[0])
        .attr("y", p.labelPos[1])
        .attr("text-anchor", "end")
        .style("font-size", "52px")
        .text(p.label);
});

// legend
let legend = svg.append("g").attr("class", "legend");
legend.append("rect")
    .attr("x", 827).attr("y", 872)
    .attr("width", 291).attr("height", 312)
    .attr("fill", "none")
    .attr("stroke", "#888")
    .attr("stroke-width", 1.2);

let legendG = legend.selectAll(".item")
    .data(scanRates)
    .enter().append("g")
    .attr("class", "item")
    .attr("transform", (d, i) => "translate(0," + (899 + i * 51.2) + ")");

legendG.append("line")
    .attr("x1", 832).attr("x2", 927)
    .attr("stroke", (d, i) => seriesColors[i])
    .attr("stroke-width", 4)
    .attr("stroke-linecap", "round");

legendG.append("text")
    .attr("x", 937)
    .attr("y", 15)
    .style("font-size", "42px")
    .text(d => d);

// axis titles
let yTitle = svg.append("text")
    .attr("transform", "translate(66,608) rotate(-90)")
    .attr("text-anchor", "middle")
    .style("font-size", "53px");
yTitle.append("tspan").text("J (A/cm");
yTitle.append("tspan").attr("dy", -26).style("font-size", "32px").text("2");
yTitle.append("tspan").attr("dy", 26).text(")");

svg.append("text")
    .attr("transform", "translate(830,1335) scale(1.08,1)")
    .attr("text-anchor", "middle")
    .style("font-size", "54px")
    .text("Evs (Ag/AgCl (V))");
</script>
</body>
</html>
